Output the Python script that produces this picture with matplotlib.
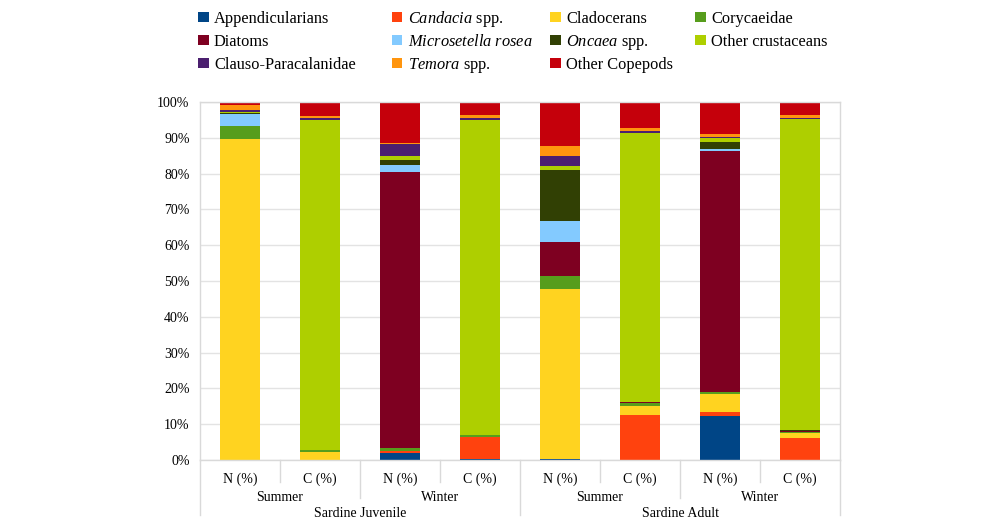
import numpy as np
import matplotlib.pyplot as plt
from matplotlib.patches import Rectangle
from matplotlib.transforms import blended_transform_factory

plt.rcParams['font.family'] = 'Liberation Serif'
plt.rcParams['mathtext.fontset'] = 'custom'
plt.rcParams['mathtext.rm'] = 'Liberation Serif'
plt.rcParams['mathtext.it'] = 'Liberation Serif:italic'

# x categories (hierarchical)
bar_labels = ['N (%)', 'C (%)', 'N (%)', 'C (%)', 'N (%)', 'C (%)', 'N (%)', 'C (%)']
seasons = ['Summer', 'Winter', 'Summer', 'Winter']
groups = ['Sardine Juvenile', 'Sardine Adult']

taxa = ['Appendicularians', r'$\it{Candacia}$ spp.', 'Cladocerans', 'Corycaeidae',
        'Diatoms', r'$\it{Microsetella\ rosea}$', r'$\it{Oncaea}$ spp.', 'Other crustaceans',
        'Clauso-Paracalanidae', r'$\it{Temora}$ spp.', 'Other Copepods']
colors = ['#004586', '#FF420E', '#FFD320', '#579D1C', '#7E0021', '#83CAFF',
          '#314004', '#AECF00', '#4B1F6F', '#FF950E', '#C5000B']

# % share per bar
appendicularians = [0, 0, 1.9, 0.3, 0.2, 0, 12.2, 0]
candacia = [0, 0, 0.7, 6.1, 0.2, 12.6, 1.1, 6.1]
cladocerans = [89.6, 2.3, 0, 0, 47.3, 2.4, 5.2, 1.4]
corycaeidae = [3.8, 0.6, 0.7, 0.6, 3.8, 0.9, 0.6, 0.2]
diatoms = [0, 0, 77.2, 0, 9.3, 0.4, 67.2, 0.4]
microsetella = [3.2, 0, 1.8, 0, 5.9, 0, 0.5, 0]
oncaea = [0.2, 0, 1.6, 0, 14.4, 0, 1.9, 0.3]
other_crustaceans = [0.5, 92.2, 1.0, 88.1, 1.0, 75.0, 1.3, 86.8]
clauso = [0.5, 0.3, 3.4, 0.4, 2.8, 0.7, 0.1, 0.4]
temora = [1.4, 0.6, 0.2, 0.8, 2.7, 0.7, 0.9, 0.8]
other_copepods = [0.8, 4.0, 11.5, 3.7, 12.4, 7.3, 9.0, 3.6]

series = [appendicularians, candacia, cladocerans, corycaeidae, diatoms, microsetella,
          oncaea, other_crustaceans, clauso, temora, other_copepods]

W, H = 998, 528
fig = plt.figure(figsize=(W / 100, H / 100), dpi=100)
ax = fig.add_axes([200 / W, 68 / H, 640 / W, 358 / H])

x = np.arange(len(bar_labels))
bottom = np.zeros(len(bar_labels))
for vals, c, lab in zip(series, colors, taxa):
    ax.bar(x, vals, 0.5, bottom=bottom, color=c, label=lab, zorder=2)
    bottom += np.array(vals)

ax.set_xlim(-0.5, len(bar_labels) - 0.5)
ax.set_ylim(0, 100)
ax.set_yticks(np.arange(0, 101, 10))
ax.set_yticklabels([f'{v}%' for v in range(0, 101, 10)], fontsize=10)
ax.tick_params(axis='y', length=0, pad=7.5)
ax.set_xticks([])
ax.grid(axis='y', color='#e3e3e3', linewidth=1, zorder=0)
for s in ax.spines.values():
    s.set_color('#d9d9d9')
    s.set_linewidth(1)

# hierarchical category axis
tr = blended_transform_factory(ax.transData, ax.transAxes)
line_kw = dict(color='#d9d9d9', linewidth=1, transform=tr, clip_on=False)
for i, lab in enumerate(bar_labels):
    ax.text(i, -0.055, lab, transform=tr, ha='center', va='center', fontsize=10)
for i in range(1, len(bar_labels)):
    if i % 4 == 0:
        depth = -0.154
    elif i % 2 == 0:
        depth = -0.106
    else:
        depth = -0.0615
    ax.plot([i - 0.5, i - 0.5], [0, depth], **line_kw)
for xe in [-0.5, len(bar_labels) - 0.5]:
    ax.plot([xe, xe], [0, -0.154], **line_kw)
for j, s in enumerate(seasons):
    ax.text(2 * j + 0.5, -0.105, s, transform=tr, ha='center', va='center', fontsize=10)
for k, g in enumerate(groups):
    ax.text(4 * k + 1.5, -0.15, g, transform=tr, ha='center', va='center', fontsize=10)

# legend drawn by hand: 4 columns, filled row by row
col_left = [198, 391.5, 550, 695]
row_top = [11.7, 34.7, 57.7]
box = 10.5
for i, (lab, c) in enumerate(zip(taxa, colors)):
    xl = col_left[i % 4]
    yt = row_top[i // 4]
    fig.add_artist(Rectangle((xl / W, 1 - (yt + box) / H), box / W, box / H,
                             transform=fig.transFigure, facecolor=c, edgecolor='none'))
    fig.text((xl + box + 5.5) / W, 1 - (yt + 11) / H, lab, fontsize=11.8,
             ha='left', va='baseline')

fig.savefig('out.png', dpi=100)
